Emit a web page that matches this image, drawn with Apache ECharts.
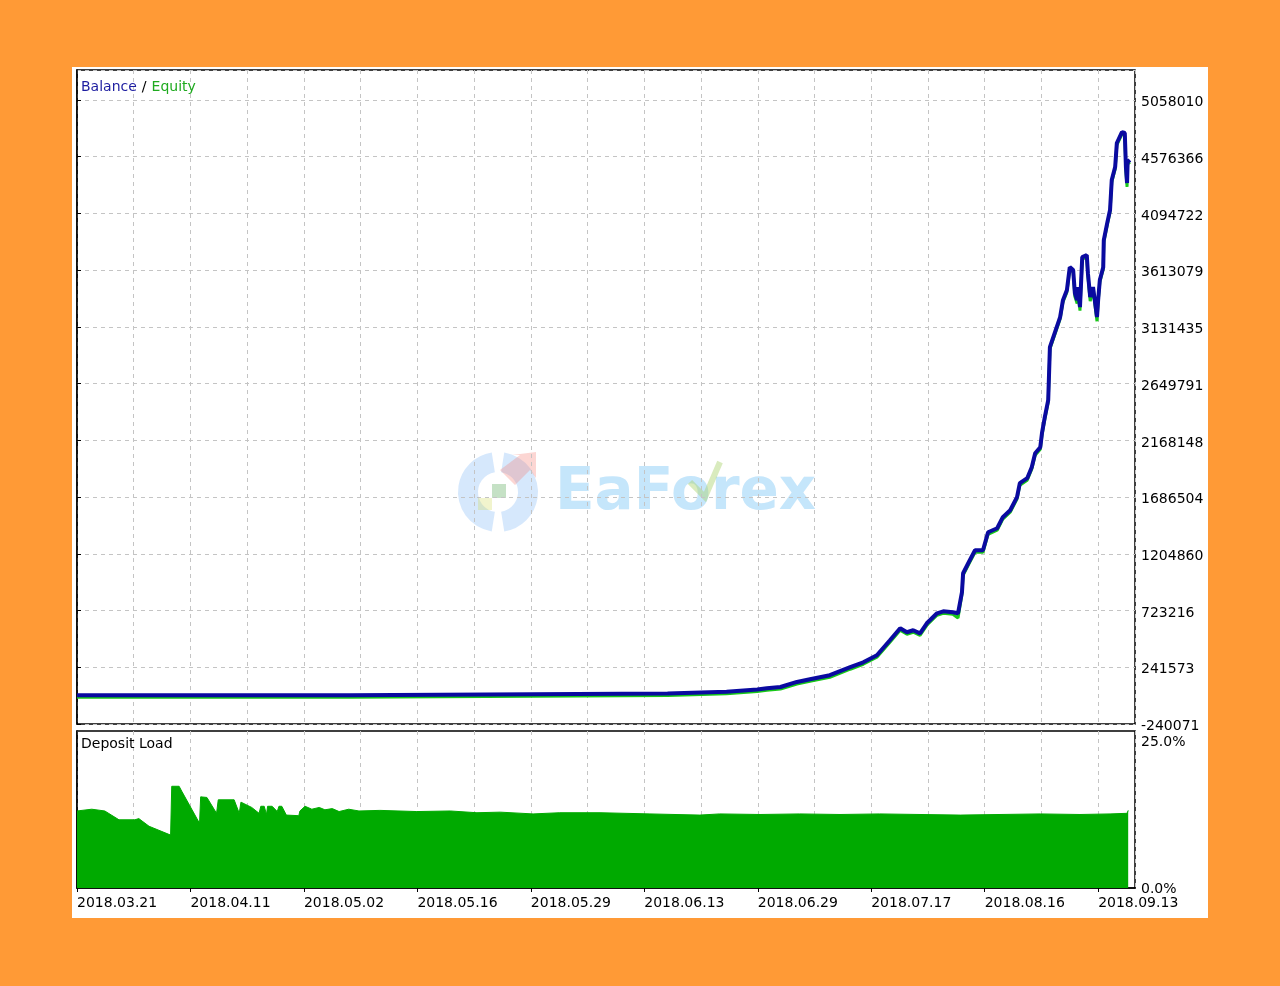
<!DOCTYPE html>
<html>
<head>
<meta charset="utf-8">
<script src="https://cdn.jsdelivr.net/npm/echarts@6/dist/echarts.min.js"></script>
<style>
  html, body { margin: 0; padding: 0; background: #FF9A36; }
  #chart { width: 1280px; height: 986px; }
</style>
</head>
<body>
<div id="chart"></div>
<script>
// ---- data ----
const dateLabels = ['2018.03.21','2018.04.11','2018.05.02','2018.05.16','2018.05.29','2018.06.13','2018.06.29','2018.07.17','2018.08.16','2018.09.13'];
const yTickLabels = ['-240071','241573','723216','1204860','1686504','2168148','2649791','3131435','3613079','4094722','4576366','5058010'];
const depositTicks = ['0.0%','25.0%'];

// progress position along the test (axis units), shared by balance & equity
const tradeX = [0,48.0,48.2,104.1,104.3,114.5,114.7,119.9,121.6,124.0,126.9,129.2,132.7,136.3,138.6,141.0,143.3,145.1,146.3,147.4,148.6,149.8,151.6,152.7,154.4,155.3,156.0,156.2,157.1,158.3,159.7,160.6,162.2,163.2,164.5,165.7,166.2,167.5,168.3,168.9,169.8,170.1,170.6,171.2,171.5,172.7,173.3,173.8,174.5,175.0,175.6,175.9,176.3,176.4,176.8,177.2,178.0,178.2,178.6,179.1,179.8,180.0,180.3,180.9,181.0,181.6,182.1,182.4,183.0,183.3,184.2,184.7,184.9,185.1,185.2,185.6];
const balance = [5000,5000,19000,19000,33000,33000,47000,52000,63000,74000,117000,140000,174000,242000,284000,344000,471000,573000,539000,556000,530000,615000,700000,717000,709000,700000,879000,1040000,1125000,1235000,1235000,1388000,1422000,1516000,1575000,1686000,1805000,1847000,1940000,2059000,2110000,2229000,2365000,2510000,2960000,3130000,3215000,3359000,3444000,3639000,3614000,3419000,3359000,3470000,3300000,3724000,3741000,3588000,3385000,3470000,3215000,3359000,3529000,3639000,3869000,4013000,4124000,4378000,4489000,4693000,4786000,4778000,4489000,4353000,4531000,4548000];
const equity = [-12000,-12000,2000,2000,16000,16000,30000,35000,46000,57000,100000,123000,157000,225000,267000,327000,454000,556000,522000,539000,513000,598000,683000,700000,692000,660000,862000,1023000,1108000,1218000,1218000,1371000,1405000,1499000,1558000,1669000,1788000,1830000,1923000,2042000,2093000,2212000,2348000,2493000,2943000,3113000,3198000,3342000,3427000,3622000,3597000,3390000,3330000,3453000,3270000,3707000,3724000,3560000,3350000,3453000,3180000,3342000,3512000,3622000,3852000,3996000,4107000,4361000,4472000,4676000,4769000,4761000,4450000,4320000,4514000,4531000];

const depositX = [0,2.6,4.9,7.4,10.2,10.9,12.7,16.5,16.7,18.0,18.5,21.6,21.8,22.9,24.6,24.9,27.7,28.6,28.9,30.8,32.1,32.4,33.0,33.4,33.6,34.4,35.3,35.6,36.1,36.9,37.1,39.1,39.3,40.2,41.4,42.7,43.7,45.0,46.2,47.9,49.7,53.4,59.9,65.8,70.5,74.6,80.4,85.1,92.2,101.0,109.8,113.3,120.4,127.4,134.5,141.5,148.6,155.7,162.7,169.8,176.8,182.1,185.1,185.3];
const depositLoad = [13.1,13.4,13.1,11.6,11.6,11.8,10.5,9.0,17.3,17.3,16.4,11.0,15.5,15.4,12.7,15.0,15.0,12.7,14.6,13.7,12.7,13.9,13.9,12.5,13.9,13.9,13.0,13.9,13.9,12.4,12.6,12.3,13.1,13.9,13.4,13.7,13.3,13.5,13.0,13.4,13.1,13.2,13.0,13.1,12.8,12.9,12.6,12.8,12.8,12.6,12.4,12.6,12.5,12.6,12.5,12.6,12.5,12.4,12.5,12.6,12.5,12.6,12.7,13.2];

// ---- chart ----
const Y_MIN = -240071;           // bottom tick value of the balance axis
const Y_STEP = 481643.7;         // tick step of the balance axis
const Y_TOP = 5552900;           // axis top, above Y_MIN
const FONT = 'DejaVu Sans';
const gridColor = '#c4c4c4';

const balData = tradeX.map((x, i) => [x, balance[i] - Y_MIN]);
const eqData = tradeX.map((x, i) => [x, equity[i] - Y_MIN]);
const depData = depositX.map((x, i) => [x, depositLoad[i]]);

const chart = echarts.init(document.getElementById('chart'), null, { renderer: 'canvas' });

const dashed = { show: true, lineStyle: { color: gridColor, type: [4, 4], width: 1 } };

chart.setOption({
  animation: false,
  backgroundColor: 'transparent',
  title: {
    text: '{b|Balance} {s|/} {e|Equity}',
    left: 81, top: 78, padding: 0,
    textStyle: {
      fontWeight: 'normal',
      rich: {
        b: { color: '#1c1ca0', fontFamily: FONT, fontSize: 14, fontWeight: 'normal' },
        s: { color: '#000', fontFamily: FONT, fontSize: 14, fontWeight: 'normal' },
        e: { color: '#1faa1f', fontFamily: FONT, fontSize: 14, fontWeight: 'normal' }
      }
    }
  },
  graphic: [
    { type: 'rect', z: -10, silent: true, shape: { x: 72, y: 67, width: 1136, height: 851 }, style: { fill: '#ffffff' } },
    { type: 'text', left: 81, top: 737, z: 10, style: { text: 'Deposit Load', fill: '#000', font: '14px "DejaVu Sans"' } },
    // watermark
    { type: 'group', z: 5, silent: true, children: [
      { type: 'sector', shape: { cx: 498, cy: 492, r: 40, r0: 20, startAngle: Math.PI * 0.55, endAngle: Math.PI * 1.45 }, style: { fill: 'rgba(120,180,245,0.3)' } },
      { type: 'sector', shape: { cx: 498, cy: 492, r: 40, r0: 20, startAngle: -Math.PI * 0.45, endAngle: Math.PI * 0.45 }, style: { fill: 'rgba(120,180,245,0.3)' } },
      { type: 'polygon', shape: { points: [[500, 470], [520, 455], [512, 455], [536, 452], [536, 478], [530, 470], [515, 485]] }, style: { fill: 'rgba(245,120,110,0.3)' } },
      { type: 'rect', shape: { x: 492, y: 484, width: 14, height: 14 }, style: { fill: 'rgba(90,170,90,0.35)' } },
      { type: 'rect', shape: { x: 478, y: 498, width: 14, height: 12 }, style: { fill: 'rgba(210,220,90,0.3)' } },
      { type: 'text', style: { x: 555, y: 494, text: 'EaForex', font: 'bold 58px "DejaVu Sans"', verticalAlign: 'middle', fill: 'rgba(140,205,248,0.5)' } },
      { type: 'polyline', shape: { points: [[690, 482], [705, 497], [720, 462]] }, style: { stroke: 'rgba(170,210,110,0.45)', lineWidth: 6, fill: null } }
    ]}
  ],
  grid: [
    { left: 77, right: 145, top: 70, height: 654, show: true, borderColor: '#000', borderWidth: 1.5, backgroundColor: 'transparent' },
    { left: 77, right: 145, top: 731, height: 157, show: true, borderColor: '#000', borderWidth: 1.5, backgroundColor: 'transparent' }
  ],
  xAxis: [
    { type: 'value', gridIndex: 0, min: 0, max: 186.5, interval: 20,
      axisLine: { show: false }, axisTick: { show: false }, axisLabel: { show: false },
      splitLine: dashed, minorTick: { show: false, splitNumber: 2 }, minorSplitLine: dashed },
    { type: 'value', gridIndex: 1, min: 0, max: 186.5, interval: 20,
      axisLine: { show: true, lineStyle: { color: '#000', width: 1.5 } },
      axisTick: { show: true, length: 4, lineStyle: { color: '#000' } },
      axisLabel: { show: true, color: '#000', fontFamily: FONT, fontSize: 14, align: 'left', margin: 8, showMaxLabel: false,
        formatter: v => { const i = Math.round(v / 20); return Math.abs(v - i * 20) < 1e-6 && dateLabels[i] ? dateLabels[i] : ''; } },
      splitLine: dashed, minorTick: { show: false, splitNumber: 2 }, minorSplitLine: dashed }
  ],
  yAxis: [
    { type: 'value', gridIndex: 0, position: 'right', min: 0, max: Y_TOP, interval: Y_STEP,
      axisLine: { show: true, lineStyle: { color: '#000', width: 1.5 } },
      axisTick: { show: true, length: 4, lineStyle: { color: '#000' } },
      axisLabel: { color: '#000', fontFamily: FONT, fontSize: 14, margin: 6, showMaxLabel: false,
        rich: { t: { color: '#000', fontFamily: FONT, fontSize: 14, padding: [5, 0, 0, 0] } },
        formatter: v => { const i = Math.round(v / Y_STEP); return yTickLabels[i] !== undefined && Math.abs(v - i * Y_STEP) < 1 ? '{t|' + yTickLabels[i] + '}' : ''; } },
      splitLine: dashed },
    { type: 'value', gridIndex: 1, position: 'right', min: 0, max: 26.7, interval: 25,
      axisLine: { show: true, lineStyle: { color: '#000', width: 1.5 } },
      axisTick: { show: false },
      axisLabel: { color: '#000', fontFamily: FONT, fontSize: 14, margin: 6, showMaxLabel: false,
        rich: { t: { color: '#000', fontFamily: FONT, fontSize: 14, padding: [3, 0, 0, 0] } },
        formatter: v => { const i = Math.round(v / 25); return Math.abs(v - i * 25) < 1e-6 && depositTicks[i] ? '{t|' + depositTicks[i] + '}' : ''; } },
      splitLine: { show: false } }
  ],
  series: [
    { name: 'Equity', type: 'line', xAxisIndex: 0, yAxisIndex: 0, data: eqData, showSymbol: false, symbol: 'none',
      lineStyle: { color: '#18c818', width: 3 }, z: 3 },
    { name: 'Balance', type: 'line', xAxisIndex: 0, yAxisIndex: 0, data: balData, showSymbol: false, symbol: 'none',
      lineStyle: { color: '#0a0aa0', width: 4 }, z: 4 },
    { name: 'Deposit Load', type: 'line', xAxisIndex: 1, yAxisIndex: 1, data: depData, showSymbol: false, symbol: 'none',
      lineStyle: { color: '#00aa00', width: 1 }, areaStyle: { color: '#00aa00', opacity: 1 }, z: 3 }
  ]
});
</script>
</body>
</html>
